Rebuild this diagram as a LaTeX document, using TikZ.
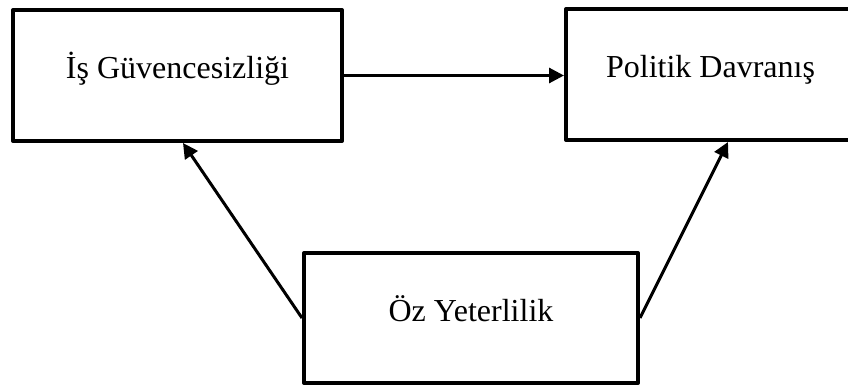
\documentclass[tikz,border=0pt]{standalone}
\usepackage{fontspec}
\setmainfont{Liberation Serif}
\usetikzlibrary{arrows.meta}
\tikzset{
    varBox/.style={
		draw, line width=4pt, line join=round, rectangle,
		minimum height=131pt, inner sep=0pt,
		text height=14pt, text depth=7pt,
		font=\fontsize{32}{38}\selectfont
	}
}
\tikzset{
    pathArrow/.style={
		line width=3pt, -{Triangle[length=15pt,width=15pt]}
	}
}
\begin{document}
\begin{tikzpicture}[x=1pt, y=-1pt]
			                \useasboundingbox (0,0) rectangle (848,385);
			                \node[varBox, minimum width=329pt] (insecurity) at (177.5,75.5) {İş Güvencesizliği};
			                \node[varBox, minimum width=289pt] (politics) at (710.5,74.5) {Politik Davranış};
			                \node[varBox, minimum width=334pt, minimum height=130pt] (selfEfficacy) at (471,318) {Öz Yeterlilik};
			                
			                \draw[pathArrow] (insecurity.east) -- (insecurity.east -| politics.west);
			                \draw[pathArrow] (selfEfficacy.west) -- ([xshift=5.5pt]insecurity.south);
			                \draw[pathArrow] (selfEfficacy.east) -- ([xshift=17.5pt]politics.south);
		                \end{tikzpicture}
\end{document}
